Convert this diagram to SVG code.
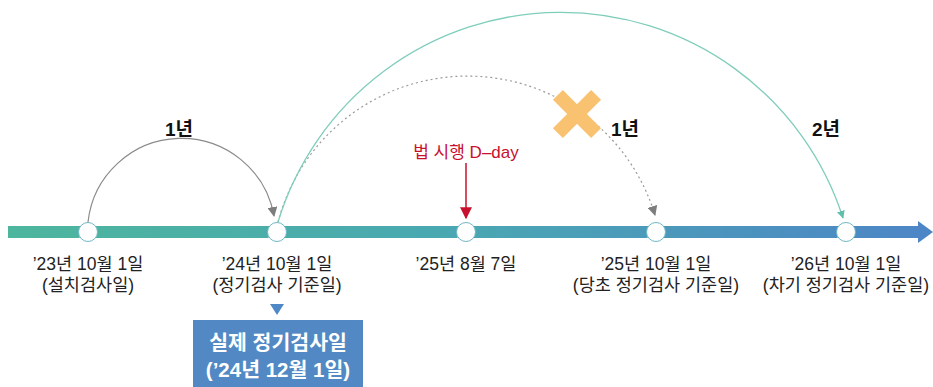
<svg xmlns="http://www.w3.org/2000/svg" width="933" height="387" viewBox="0 0 933 387">
<defs>
<linearGradient id="bar" x1="0" y1="0" x2="1" y2="0">
<stop offset="0" stop-color="#4db69d"/>
<stop offset="0.5" stop-color="#4aa7b2"/>
<stop offset="1" stop-color="#4d86c6"/>
</linearGradient>
<linearGradient id="sh" x1="1" y1="0" x2="0" y2="1">
<stop offset="0" stop-color="#ffffff" stop-opacity="0.7"/>
<stop offset="1" stop-color="#ffffff" stop-opacity="0"/>
</linearGradient>
<marker id="ag" viewBox="0 0 10 10" refX="9" refY="5" markerWidth="10" markerHeight="10" markerUnits="userSpaceOnUse" orient="auto">
<path d="M0,0 L10,5 L0,10 z" fill="#7d7d7d"/>
</marker>
<marker id="at" viewBox="0 0 10 10" refX="9" refY="5" markerWidth="8" markerHeight="8" markerUnits="userSpaceOnUse" orient="auto">
<path d="M0,0 L10,5 L0,10 z" fill="#5fc0aa"/>
</marker>
<marker id="ar" viewBox="0 0 10 10" refX="9" refY="5" markerWidth="12" markerHeight="12" markerUnits="userSpaceOnUse" orient="auto">
<path d="M0,0 L10,5 L0,10 z" fill="#c8102e"/>
</marker>
</defs>
<style>
text{font-family:"Liberation Sans","Noto Sans CJK KR",sans-serif;}
.lb{font-size:17.5px;fill:#222;text-anchor:middle;}
.yr{font-size:19px;font-weight:bold;fill:#111;text-anchor:middle;}
.node circle{fill:#fff;stroke:#6fb7c4;stroke-width:1;}
.shadow{fill:url(#sh);}
.box{font-size:20.5px;font-weight:bold;fill:#fff;text-anchor:middle;}
</style>
<g id="timeline">
<rect x="8" y="226" width="912" height="12" fill="url(#bar)"/>
<polygon points="918,221 933,232 918,243" fill="#4d86c6"/>
</g>
<g id="connectors">
<path d="M88,222 A94 94 0 0 1 274,216" fill="none" stroke="#8a8a8a" stroke-width="1.2" marker-end="url(#ag)"/>
<path d="M278,222 A196 196 0 0 1 655,215" fill="none" stroke="#9a9a9a" stroke-width="1.2" stroke-dasharray="2,3" marker-end="url(#ag)"/>
<path d="M278,222 A296 296 0 0 1 843,218" fill="none" stroke="#7fcdbb" stroke-width="1.3" marker-end="url(#at)"/>
<line x1="466" y1="163" x2="466" y2="218" stroke="#c8102e" stroke-width="1.5" marker-end="url(#ar)"/>
</g>
<g id="n1" class="node">
<polygon class="shadow" points="80,236 88,232 96,240 82,256 66,256"/>
<circle cx="88" cy="232" r="9.5"/>
<text class="lb" x="88" y="270">’23년 10월 1일</text>
<text class="lb" x="88" y="291">(설치검사일)</text>
</g>
<g id="n2" class="node">
<polygon class="shadow" points="269,236 277,232 285,240 271,256 255,256"/>
<circle cx="277" cy="232" r="9.5"/>
<text class="lb" x="277" y="270">’24년 10월 1일</text>
<text class="lb" x="277" y="291">(정기검사 기준일)</text>
</g>
<g id="n3" class="node">
<polygon class="shadow" points="458,236 466,232 474,240 460,256 444,256"/>
<circle cx="466" cy="232" r="9.5"/>
<text class="lb" x="466" y="270">’25년 8월 7일</text>
</g>
<g id="n4" class="node">
<polygon class="shadow" points="648,236 656,232 664,240 650,256 634,256"/>
<circle cx="656" cy="232" r="9.5"/>
<text class="lb" x="656" y="270">’25년 10월 1일</text>
<text class="lb" x="656" y="291">(당초 정기검사 기준일)</text>
</g>
<g id="n5" class="node">
<polygon class="shadow" points="838,236 846,232 854,240 840,256 824,256"/>
<circle cx="846" cy="232" r="9.5"/>
<text class="lb" x="846" y="270">’26년 10월 1일</text>
<text class="lb" x="846" y="291">(차기 정기검사 기준일)</text>
</g>
<g id="labels">
<text class="yr" x="179" y="136">1년</text>
<text class="yr" x="625" y="136">1년</text>
<text class="yr" x="826" y="136">2년</text>
<text x="466" y="158" font-size="17" fill="#c8102e" text-anchor="middle">법 시행 D–day</text>
</g>
<g id="cross" transform="translate(577,114) rotate(45)">
<rect x="-27" y="-7" width="54" height="14" fill="#f9c270"/>
<rect x="-7" y="-27" width="14" height="54" fill="#f9c270"/>
</g>
<g id="actual">
<polygon points="270,304 284,304 277,315" fill="#4f88c6"/>
<rect x="193" y="320" width="170" height="67" fill="#5289c4"/>
<text class="box" x="278" y="350">실제 정기검사일</text>
<text class="box" x="278" y="377">(’24년 12월 1일)</text>
</g>
</svg>
